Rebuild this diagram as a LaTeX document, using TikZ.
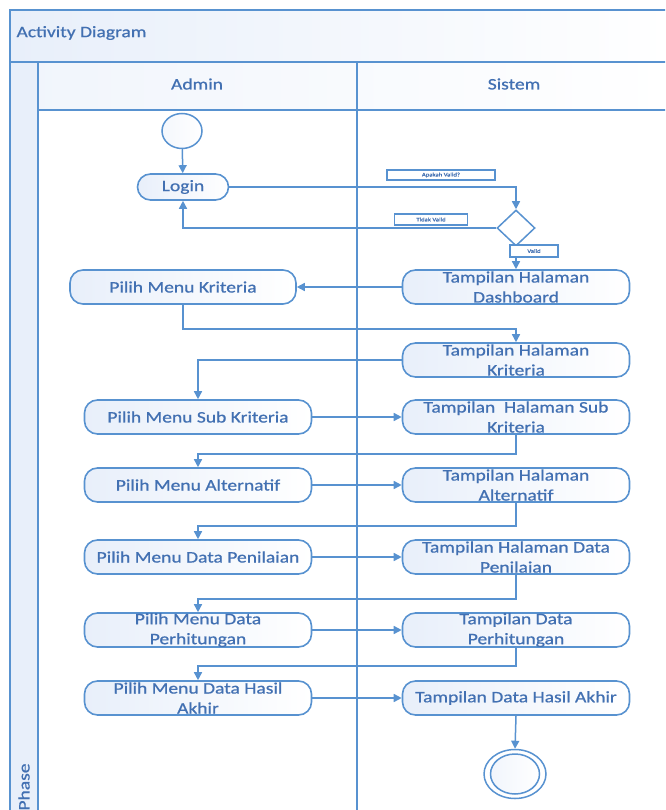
\documentclass[tikz,border=0pt]{standalone}
\usepackage{fontspec}
\setmainfont[FakeStretch=1.22,FakeBold=0.8]{Carlito}
\usetikzlibrary{arrows.meta,shapes.geometric}
\definecolor{ln}{RGB}{88,146,208}
\definecolor{tx}{RGB}{66,112,178}
\definecolor{bg}{RGB}{232,239,250}
\tikzset{
  frame/.style={draw=ln, line width=1.5pt},
  act/.style={draw=ln, line width=1.6pt, rounded corners=13pt, left color=bg, right color=white,
    minimum width=227pt, minimum height=34pt, inner sep=0pt, text=tx,
    font=\fontsize{16}{20}\selectfont, align=center},
  arr/.style={draw=ln, line width=1.5pt, -{Triangle[length=8pt,width=8pt]}},
  tag/.style={draw=ln, line width=1.2pt, fill=white, inner sep=0pt, text=tx,
    font=\fontsize{5.5}{6}\selectfont},
  hdr/.style={text=tx, font=\fontsize{16}{18}\selectfont}
}
\begin{document}
\begin{tikzpicture}[x=1pt,y=-1pt]
\useasboundingbox (0,0) rectangle (665,810);
\clip (0,0) rectangle (665,810);
% frame
\shade[left color=bg, right color=white] (10,10) rectangle (670,62);
\shade[left color=bg!60, right color=white] (38,62) rectangle (670,110);
\fill[bg] (10,62) rectangle (38,815);
\draw[frame] (10,815) -- (10,10) -- (670,10);
\draw[frame] (10,62) -- (670,62);
\draw[frame] (38,62) -- (38,815);
\draw[frame] (38,110) -- (670,110);
\draw[frame] (357,62) -- (357,815);
\node[hdr, anchor=west] (title) at (13,33) {Activity Diagram};
\node[hdr] (admin) at (197,84) {Admin};
\node[hdr] (sistem) at (514,84) {Sistem};
\node[hdr, rotate=90] (phase) at (24,787) {Phase};
% nodes
\node[ellipse, draw=ln, line width=1.5pt, left color=bg!50, right color=white, minimum width=40pt, minimum height=35pt, inner sep=0pt] (start) at (182,131) {};
\node[act, minimum width=91pt, minimum height=26pt] (login) at (183,187) {Login};
\node[diamond, draw=ln, line width=1.5pt, fill=white, minimum width=38pt, minimum height=36pt, inner sep=0pt] (dia) at (516,228) {};
\node[act] (dash) at (516,287) {Tampilan Halaman\\Dashboard};
\node[act, minimum width=226pt] (pmk) at (183,287) {Pilih Menu Kriteria};
\node[act] (thk) at (516,360) {Tampilan Halaman\\Kriteria};
\node[act] (pmsk) at (198,417) {Pilih Menu Sub Kriteria};
\node[act] (thsk) at (516,417) {Tampilan\ \ Halaman Sub\\Kriteria};
\node[act] (pma) at (198,485) {Pilih Menu Alternatif};
\node[act] (tha) at (516,485) {Tampilan Halaman\\Alternatif};
\node[act] (pmdp) at (198,557) {Pilih Menu Data Penilaian};
\node[act] (thdp) at (516,557) {Tampilan Halaman Data\\Penilaian};
\node[act] (pmdh) at (198,630) {Pilih Menu Data\\Perhitungan};
\node[act] (tdh) at (516,630) {Tampilan Data\\Perhitungan};
\node[act] (pmha) at (198,698) {Pilih Menu Data Hasil\\Akhir};
\node[act] (tha2) at (516,698) {Tampilan Data Hasil Akhir};
\node[ellipse, draw=ln, line width=1.5pt, fill=white, minimum width=62pt, minimum height=49pt, inner sep=0pt] (end) at (515,774) {};
\node[ellipse, draw=ln, line width=1.5pt, left color=bg!60, right color=white, minimum width=49pt, minimum height=40pt, inner sep=0pt] (endin) at (515,774) {};
% connectors
\draw[arr] (start) -- (login);
\draw[arr] (login.east) -| (dia.north);
\draw[arr] (dia.west) -| (login.south);
\draw[arr] (dia.south) -- (dash.north);
\draw[arr] (dash.west) -- (pmk.east);
\draw[arr] (pmk.south) -- ++(0,24) -| (thk.north);
\draw[arr] (thk.west) -| (pmsk.north);
\draw[arr] (pmsk.east) -- (thsk.west);
\draw[arr] (thsk.south) -- ++(0,19) -| (pma.north);
\draw[arr] (pma.east) -- (tha.west);
\draw[arr] (tha.south) -- ++(0,23) -| (pmdp.north);
\draw[arr] (pmdp.east) -- (thdp.west);
\draw[arr] (thdp.south) -- ++(0,24) -| (pmdh.north);
\draw[arr] (pmdh.east) -- (tdh.west);
\draw[arr] (tdh.south) -- ++(0,18) -| (pmha.north);
\draw[arr] (pmha.east) -- (tha2.west);
\draw[arr] (tha2.south) -- (end.north);
% tags
\node[tag, minimum width=108pt, minimum height=10pt] (tq) at (441,175) {Apakah Valid?};
\node[tag, minimum width=73pt, minimum height=11pt] (tno) at (431,219.5) {Tidak Valid};
\node[tag, minimum width=48pt, minimum height=12pt] (tyes) at (534,251) {Valid};
\end{tikzpicture}
\end{document}
